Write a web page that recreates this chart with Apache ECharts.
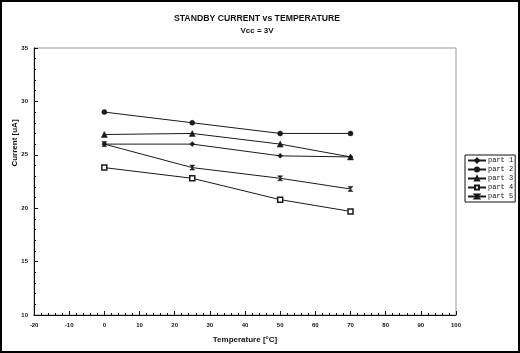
<!DOCTYPE html>
<html>
<head>
<meta charset="utf-8">
<script src="https://cdn.jsdelivr.net/npm/echarts@6/dist/echarts.min.js"></script>
<style>
  html,body{margin:0;padding:0;background:#fff;}
  #main{width:520px;height:353px;}
</style>
</head>
<body>
<div id="main"></div>
<script>
// temperature points (°C)
var temps=[0,25,50,70];
var seriesNames=['part 1','part 2','part 3','part 4','part 5'];
// current in uA
var part1=[26,26,24.9,24.8];
var part2=[29,28,27,27];
var part3=[26.9,27,26,24.8];
var part4=[23.8,22.8,20.8,19.7];
var part5=[26,23.8,22.8,21.8];
var symbols=['diamond','circle','triangle','rect','path://M0,0L10,0L5,5L10,10L0,10L5,5Z'];

var font='"Liberation Sans", Arial, sans-serif';
var allData=[part1,part2,part3,part4,part5];

function pairs(vals){
    var out=[];
    for(var i=0;i<temps.length;i++){
        out.push([temps[i],vals[i]]);
    }
    return out;
}

var series=[];
for(var i=0;i<seriesNames.length;i++){
    series.push({
        name:seriesNames[i],
        type:'line',
        data:pairs(allData[i]),
        symbol:symbols[i],
        symbolSize:i==2?6:5,
        lineStyle:{color:'#1a1a1a',width:1},
        itemStyle:{
            color:i==3?'#fff':'#1a1a1a',
            borderColor:'#1a1a1a',
            borderWidth:i==3?1.5:0.5
        },
        emphasis:{disabled:true},
        animation:false
    });
}

var myChart=echarts.init(document.getElementById('main'));
var option={
    backgroundColor:'#fff',
    animation:false,
    title:{
        text:'STANDBY CURRENT vs TEMPERATURE',
        subtext:'Vcc = 3V',
        left:252,
        textAlign:'center',
        top:9,
        itemGap:4,
        textStyle:{fontFamily:font,fontSize:8.7,fontWeight:'bold',color:'#111'},
        subtextStyle:{fontFamily:font,fontSize:8,fontWeight:'bold',color:'#111'}
    },
    legend:{
        orient:'vertical',
        left:465,
        top:155,
        itemWidth:18,
        itemHeight:5,
        itemGap:2,
        padding:[2,2,2,2],
        borderColor:'#111',
        borderWidth:1,
        data:seriesNames,
        textStyle:{fontFamily:'"Liberation Mono", monospace',fontSize:7,color:'#111',padding:[0,0,0,-3]}
    },
    grid:{
        left:34,
        right:64,
        top:48,
        bottom:38,
        show:true,
        borderColor:'#999',
        borderWidth:1
    },
    xAxis:{
        type:'value',
        min:-20,
        max:100,
        interval:10,
        name:'Temperature [°C]',
        nameLocation:'middle',
        nameGap:21,
        nameTextStyle:{fontFamily:font,fontSize:8,fontWeight:'bold',color:'#111'},
        axisLine:{onZero:false,lineStyle:{color:'#111',width:1}},
        axisTick:{inside:true,length:4,lineStyle:{color:'#111'}},
        minorTick:{show:true,splitNumber:5,length:2,lineStyle:{color:'#111'}},
        splitLine:{show:false},
        axisLabel:{fontFamily:font,fontSize:6,fontWeight:'bold',color:'#111',margin:7}
    },
    yAxis:{
        type:'value',
        min:10,
        max:35,
        interval:5,
        axisLine:{show:true,onZero:false,lineStyle:{color:'#111',width:1}},
        axisTick:{show:true,inside:true,length:4,lineStyle:{color:'#111'}},
        minorTick:{show:true,splitNumber:5,length:2,lineStyle:{color:'#111'}},
        splitLine:{show:false},
        axisLabel:{fontFamily:font,fontSize:6,fontWeight:'bold',color:'#111',margin:6}
    },
    graphic:[
        {
            type:'rect',
            shape:{x:1,y:1,width:518,height:351},
            style:{fill:'none',stroke:'#000',lineWidth:2},
            silent:true
        },
        {
            type:'text',
            x:15,
            y:143,
            rotation:Math.PI/2,
            style:{
                text:'Current [uA]',
                fontFamily:font,
                fontSize:8,
                fontWeight:'bold',
                fill:'#111',
                align:'center',
                verticalAlign:'middle'
            }
        }
    ],
    series:series
};
myChart.setOption(option);
</script>
</body>
</html>
